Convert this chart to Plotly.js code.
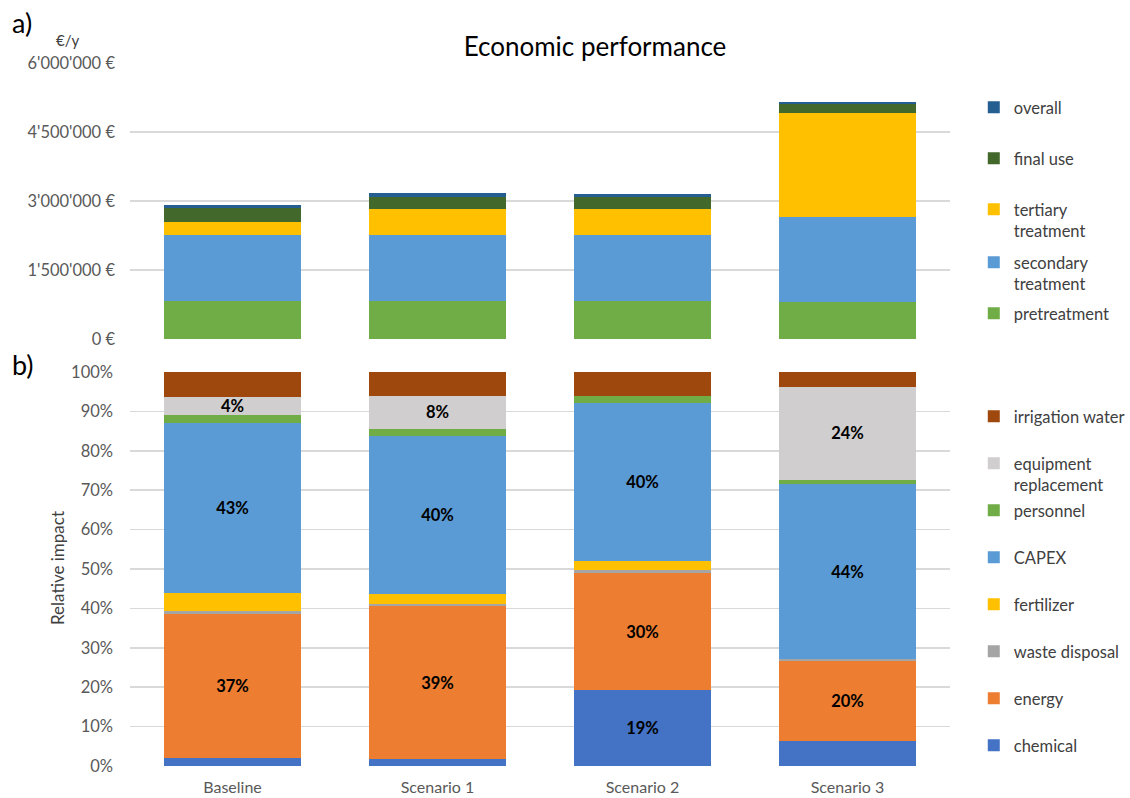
<!DOCTYPE html>
<html>
<head>
<meta charset="utf-8">
<script src="https://cdn.plot.ly/plotly-3.0.1.min.js"></script>
<style>html,body{margin:0;padding:0;background:#fff;} #chart{width:1130px;height:798px;}</style>
</head>
<body>
<div id="chart"></div>
<script>
// ---- data ----
const categories = ['Baseline', 'Scenario 1', 'Scenario 2', 'Scenario 3'];

// a) economic performance, €/y
const pretreatment = [833000, 833000, 835000, 796000];
const secondaryTreatment = [1427000, 1427000, 1432000, 1847000];
const tertiaryTreatment = [275000, 573000, 550000, 2261000];
const finalUse = [319000, 260000, 270000, 211000];
const overall = [66000, 81000, 65000, 37000];
const topTickVals = [0, 1500000, 3000000, 4500000, 6000000];
const topTickText = ['0 €', "1'500'000 €", "3'000'000 €", "4'500'000 €", "6'000'000 €"];

// b) relative impact, %
const chemical = [2.0, 1.7, 19.2, 6.4];
const energy = [36.7, 38.9, 29.8, 20.2];
const wasteDisposal = [0.7, 0.6, 0.7, 0.5];
const fertilizer = [4.5, 2.4, 2.3, 0.1];
const capex = [43.2, 40.1, 40.1, 44.3];
const personnel = [2.1, 1.9, 1.8, 1.2];
const equipmentReplacement = [4.4, 8.4, 0.0, 23.6];
const irrigationWater = [6.4, 6.0, 6.1, 3.7];

const chemicalLabels = ['', '', '19%', ''];
const energyLabels = ['37%', '39%', '30%', '20%'];
const capexLabels = ['43%', '40%', '40%', '44%'];
const equipmentLabels = ['4%', '8%', '', '24%'];

// ---- traces ----
const FONT = 'Lato, "Open Sans", sans-serif';
const H = 798;
const legendFont = {family: FONT, size: 16.5, color: '#404040'};
const legends = {};
let legendCount = 0;

// each legend entry gets its own legend box, placed at its pixel row (centre y)
function bar(name, y, color, axis, legendRowY, text) {
  legendCount++;
  const key = legendCount === 1 ? 'legend' : 'legend' + legendCount;
  legends[key] = {
    xref: 'paper', yref: 'paper', x: 1.029, xanchor: 'left',
    y: 1 - (legendRowY - 17) / H, yanchor: 'top',
    valign: 'top', itemwidth: 30, font: legendFont, bgcolor: 'rgba(0,0,0,0)'
  };
  const t = {
    type: 'bar', name: name, x: categories, y: y,
    marker: {color: color, line: {width: 0}},
    xaxis: axis === 1 ? 'x' : 'x2', yaxis: axis === 1 ? 'y' : 'y2',
    legend: key, showlegend: true, hoverinfo: 'skip'
  };
  if (text) {
    t.text = text;
    t.textposition = 'inside';
    t.insidetextanchor = 'middle';
    t.textangle = 0;
    t.constraintext = 'none';
    t.textfont = {family: FONT, size: 16.5, color: '#000', weight: 'bold'};
  } else {
    t.textposition = 'none';
  }
  return t;
}

const data = [
  bar('pretreatment', pretreatment, '#70AD47', 1, 313),
  bar('secondary<br>treatment', secondaryTreatment, '#5B9BD5', 1, 262),
  bar('tertiary<br>treatment', tertiaryTreatment, '#FFC000', 1, 209),
  bar('final use', finalUse, '#43682B', 1, 158),
  bar('overall', overall, '#255E91', 1, 107),

  bar('chemical', chemical, '#4472C4', 2, 745, chemicalLabels),
  bar('energy', energy, '#ED7D31', 2, 698, energyLabels),
  bar('waste disposal', wasteDisposal, '#A5A5A5', 2, 651),
  bar('fertilizer', fertilizer, '#FFC000', 2, 604),
  bar('CAPEX', capex, '#5B9BD5', 2, 557, capexLabels),
  bar('personnel', personnel, '#70AD47', 2, 510),
  bar('equipment<br>replacement', equipmentReplacement, '#D0CECE', 2, 463, equipmentLabels),
  bar('irrigation water', irrigationWater, '#9E480E', 2, 416)
];

const tickFont = {family: FONT, size: 16.5, color: '#595959'};

const layout = Object.assign({
  width: 1130, height: 798,
  showlegend: true,
  margin: {l: 130, r: 180, t: 0, b: 0, autoexpand: false},
  paper_bgcolor: '#fff', plot_bgcolor: '#fff',
  barmode: 'stack', bargap: 0.333,
  font: {family: FONT, color: '#404040'},
  title: {text: 'Economic performance', font: {family: FONT, size: 26, color: '#000'},
          x: 595 / 1130, xref: 'container', xanchor: 'center',
          y: 1 - 47 / H, yref: 'container', yanchor: 'middle'},
  xaxis: {domain: [0, 1], anchor: 'y', showticklabels: false, ticks: '', showgrid: false,
          zeroline: false, showline: false, fixedrange: true},
  yaxis: {domain: [1 - 339 / H, 1 - 63 / H], anchor: 'x', range: [0, 6000000],
          tickvals: topTickVals, ticktext: topTickText, tickfont: tickFont,
          ticklabelstandoff: 14, showgrid: true, gridcolor: '#D9D9D9', gridwidth: 1.5,
          zeroline: false, showline: false, ticks: '', fixedrange: true},
  xaxis2: {domain: [0, 1], anchor: 'y2', tickfont: Object.assign({}, tickFont, {size: 16}),
           ticklabelstandoff: 10,
           ticks: '', showgrid: false, zeroline: false, showline: false, fixedrange: true},
  yaxis2: {domain: [1 - 766 / H, 1 - 372 / H], anchor: 'x2', range: [0, 100], dtick: 10,
           ticksuffix: '%', tickfont: tickFont, ticklabelstandoff: 16,
           showgrid: true, gridcolor: '#D9D9D9', gridwidth: 1.5,
           zeroline: false, showline: false, ticks: '', fixedrange: true},
  annotations: [
    {text: 'a)', xref: 'paper', yref: 'paper', x: -120 / 820, y: 1 - 22 / H,
     xanchor: 'left', yanchor: 'middle', showarrow: false,
     font: {family: FONT, size: 27, color: '#000'}},
    {text: 'b)', xref: 'paper', yref: 'paper', x: -120 / 820, y: 1 - 364 / H,
     xanchor: 'left', yanchor: 'middle', showarrow: false,
     font: {family: FONT, size: 27, color: '#000'}},
    {text: '€/y', xref: 'paper', yref: 'paper', x: -76 / 820, y: 1 - 40 / H,
     xanchor: 'left', yanchor: 'middle', showarrow: false,
     font: {family: FONT, size: 15, color: '#404040'}},
    {text: 'Relative impact', xref: 'paper', yref: 'paper', x: -73 / 820, y: 1 - 568 / H,
     xanchor: 'center', yanchor: 'middle', textangle: -90, showarrow: false,
     font: {family: FONT, size: 17, color: '#404040'}}
  ]
}, legends);

Plotly.newPlot('chart', data, layout, {displayModeBar: false, staticPlot: true});
</script>
</body>
</html>
